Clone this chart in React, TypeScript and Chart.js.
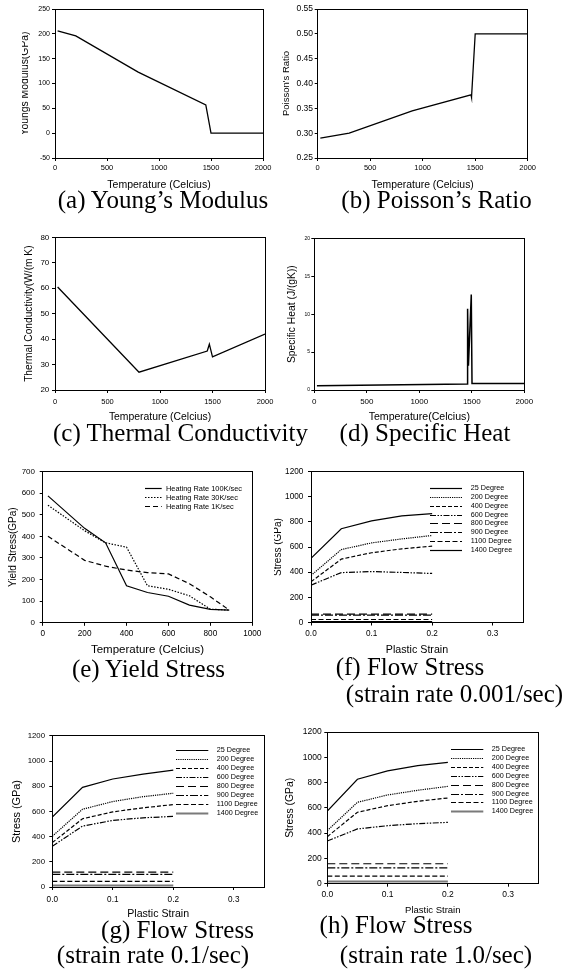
import React, { useEffect, useRef } from "react";
import { Chart, registerables } from "chart.js";

Chart.register(...registerables);

const SANS = "'Liberation Sans', Arial, sans-serif";
const SERIF = "'Liberation Serif', 'Times New Roman', serif";

// (a)-(d): temperature dependent material properties
const youngTemps = [25, 200, 800, 1450, 1500, 2000];
const youngModulus = [206, 196, 123, 57, 0, 0];
const poissonTemps = [25, 300, 900, 1460, 1465, 1500, 2000];
const poissonRatio = [0.29, 0.3, 0.345, 0.377, 0.372, 0.5, 0.5];
const conductivityTemps = [25, 800, 1450, 1470, 1500, 2000];
const conductivity = [60.5, 27, 35.3, 38, 33, 42];
const heatTemps = [25, 1455, 1460, 1468, 1495, 1502, 2000];
const specificHeat = [0.55, 0.8, 10.7, 3.2, 12.6, 0.85, 0.85];

// (e): yield stress for three heating rates
const yieldTemps = [25, 200, 300, 400, 500, 600, 700, 800, 890];
const yield100K = [587, 437, 370, 171, 140, 123, 82, 62, 59];
const yield30K = [544, 426, 370, 350, 171, 155, 125, 63, 59];
const yield1K = [400, 289, 262, 244, 232, 226, 181, 120, 59];
const heatingLabels = ["Heating Rate 100K/sec", "Heating Rate 30K/sec", "Heating Rate 1K/sec"];

// (f)-(h): flow stress vs plastic strain, one row per temperature
const strains = [0, 0.05, 0.1, 0.15, 0.2];
const degreeLabels = [
  "25 Degree", "200 Degree", "400 Degree", "600 Degree",
  "800 Degree", "900 Degree", "1100 Degree", "1400 Degree",
];
const flowRate0001 = [
  [510, 746, 808, 848, 866],
  [374, 580, 633, 665, 692],
  [324, 504, 555, 586, 607],
  [297, 397, 405, 398, 390],
  [67, 67, 67, 67, 67],
  [58, 58, 58, 58, 58],
  [24, 24, 24, 24, 24],
  [7, 7, 7, 7, 7],
];
const flowRate01 = [
  [555, 792, 858, 897, 929],
  [403, 618, 679, 718, 745],
  [353, 542, 597, 629, 655],
  [324, 484, 529, 550, 561],
  [118, 118, 118, 118, 118],
  [101, 101, 101, 101, 101],
  [44, 44, 44, 44, 44],
  [12, 12, 12, 12, 12],
];
const flowRate1 = [
  [575, 826, 892, 934, 960],
  [420, 644, 702, 739, 770],
  [372, 565, 617, 652, 678],
  [338, 433, 459, 475, 485],
  [158, 158, 158, 158, 158],
  [125, 125, 125, 125, 125],
  [60, 60, 60, 60, 60],
  [18, 18, 18, 18, 18],
];

// tick values
const tempTicks = [0, 500, 1000, 1500, 2000];
const youngTicks = [-50, 0, 50, 100, 150, 200, 250];
const poissonTicks = [0.25, 0.3, 0.35, 0.4, 0.45, 0.5, 0.55];
const conductivityTicks = [20, 30, 40, 50, 60, 70, 80];
const heatTicks = [0, 5, 10, 15, 20];
const yieldTempTicks = [0, 200, 400, 600, 800, 1000];
const yieldTicks = [0, 100, 200, 300, 400, 500, 600, 700];
const strainTicks = [0, 0.1, 0.2, 0.3];
const flowTicks = [0, 200, 400, 600, 800, 1000, 1200];

// line styles
const heatingDash = [[], [1.5, 1.5], [5, 3]];
const degreeDash = [
  [], [1.2, 1], [4, 2], [6, 1.5, 1.5, 1.5, 1.5, 1.5],
  [8, 4], [8, 2, 2, 2], [5, 2.5], [],
];

type Series = { label?: string; xs: number[]; ys: number[]; dash?: number[]; color?: string; width?: number };

const single = (xs: number[], ys: number[], width = 1.3): Series[] => [{ xs, ys, width }];

const flowSeries = (rows: number[][], grayLast: boolean): Series[] =>
  rows.map((ys, i) => ({
    label: degreeLabels[i],
    xs: strains,
    ys,
    dash: degreeDash[i],
    color: grayLast && i === rows.length - 1 ? "#7a7a7a" : "#000",
    width: grayLast && i === rows.length - 1 ? 2 : 1.2,
  }));

const flowAxes = {
  xMin: 0, xMax: 0.35, xTicks: strainTicks, xDec: 1,
  yMin: 0, yMax: 1200, yTicks: flowTicks, yDec: 0,
  xTitle: "Plastic Strain", yTitle: "Stress (GPa)",
};

const panels: any[] = [
  {
    plot: [55, 9, 263, 158], canvasLeft: 22,
    xMin: 0, xMax: 2000, xTicks: tempTicks, xDec: 0,
    yMin: -50, yMax: 250, yTicks: youngTicks, yDec: 0,
    yTitle: "Youngs Modulus(GPa)", yTitleX: 25, yTitleSize: 10.4,
    xTitle: "Temperature (Celcius)", xTitleY: 185, xTitleSize: 10.5,
    xTickY: 168, xTickSize: 7.5, yTickRight: 50, yTickSize: 7,
    series: single(youngTemps, youngModulus),
  },
  {
    plot: [317.7, 9, 527.7, 158], canvasLeft: 280,
    xMin: 0, xMax: 2000, xTicks: tempTicks, xDec: 0,
    yMin: 0.25, yMax: 0.55, yTicks: poissonTicks, yDec: 2,
    yTitle: "Poisson's Ratio", yTitleX: 286, yTitleSize: 9.5,
    xTitle: "Temperature (Celcius)", xTitleY: 185, xTitleSize: 10.4,
    xTickY: 168, xTickSize: 7.5, yTickRight: 313, yTickSize: 8.5,
    series: single(poissonTemps, poissonRatio),
  },
  {
    plot: [55, 237.3, 265, 390], canvasLeft: 18,
    xMin: 0, xMax: 2000, xTicks: tempTicks, xDec: 0,
    yMin: 20, yMax: 80, yTicks: conductivityTicks, yDec: 0,
    yTitle: "Thermal Conductivity(W/(m K)", yTitleX: 29, yTitleSize: 10.2,
    xTitle: "Temperature (Celcius)", xTitleY: 416.7, xTitleSize: 10.4,
    xTickY: 401.7, xTickSize: 7.5, yTickRight: 49.3, yTickSize: 8,
    series: single(conductivityTemps, conductivity),
  },
  {
    plot: [314.3, 238.3, 524.3, 390], canvasLeft: 282,
    xMin: 0, xMax: 2000, xTicks: tempTicks, xDec: 0,
    yMin: 0, yMax: 20, yTicks: heatTicks, yDec: 0,
    yTitle: "Specific Heat (J/(gK))", yTitleX: 292, yTitleSize: 10.3,
    xTitle: "Temperature(Celcius)", xTitleY: 416.7, xTitleSize: 10.6,
    xTickY: 401.7, xTickSize: 8, yTickRight: 310, yTickSize: 5,
    series: single(heatTemps, specificHeat, 1.5),
  },
  {
    plot: [42.7, 470.5, 252.3, 622.8], canvasLeft: 4,
    xMin: 0, xMax: 1000, xTicks: yieldTempTicks, xDec: 0,
    yMin: 0, yMax: 700, yTicks: yieldTicks, yDec: 0,
    yTitle: "Yield Stress(GPa)", yTitleX: 13.5, yTitleSize: 10,
    xTitle: "Temperature (Celcius)", xTitleY: 650, xTitleSize: 11.5,
    xTickY: 633.3, xTickSize: 8.2, yTickRight: 35, yTickSize: 8,
    series: [yield100K, yield30K, yield1K].map((ys, i) => ({
      label: heatingLabels[i], xs: yieldTemps, ys, dash: heatingDash[i], width: 1.2,
    })),
    legend: { lineStart: 145, lineEnd: 161.7, textX: 166, firstRow: 488.3, rowGap: 9, size: 7.4 },
  },
  {
    ...flowAxes,
    plot: [311, 470.9, 523, 622.5], canvasLeft: 274,
    yTitleX: 278.5, yTitleSize: 10,
    xTitleY: 650, xTitleSize: 10.7,
    xTickY: 633.3, xTickSize: 8.2, yTickRight: 303.3, yTickSize: 8.2,
    series: flowSeries(flowRate0001, false),
    legend: { lineStart: 430, lineEnd: 462, textX: 470.7, firstRow: 487.7, rowGap: 8.94, size: 7.2 },
  },
  {
    ...flowAxes,
    plot: [52.3, 735.5, 264, 887], canvasLeft: 6,
    yTitleX: 16.5, yTitleSize: 10.9,
    xTitleY: 914.3, xTitleSize: 10.6,
    xTickY: 900, xTickSize: 8.2, yTickRight: 45, yTickSize: 7.8,
    series: flowSeries(flowRate01, true),
    legend: { lineStart: 176, lineEnd: 208.3, textX: 216.7, firstRow: 750.3, rowGap: 8.96, size: 7.2 },
  },
  {
    ...flowAxes,
    plot: [327.3, 732, 538.3, 883.7], canvasLeft: 280,
    yTitleX: 290.5, yTitleSize: 10.4,
    xTitleY: 910.7, xTitleSize: 9.5,
    xTickY: 895, xTickSize: 8.5, yTickRight: 321.7, yTickSize: 8.5,
    series: flowSeries(flowRate1, true),
    legend: { lineStart: 451, lineEnd: 483.3, textX: 491.7, firstRow: 749, rowGap: 8.9, size: 7.2 },
  },
];

const captions = [
  { text: "(a) Young\u2019s Modulus", cx: 163, baseline: 208 },
  { text: "(b) Poisson\u2019s Ratio", cx: 436.5, baseline: 208 },
  { text: "(c) Thermal Conductivity", cx: 180.5, baseline: 441 },
  { text: "(d) Specific Heat", cx: 425, baseline: 441 },
  { text: "(e) Yield Stress", cx: 148.5, baseline: 677 },
  { text: "(f) Flow Stress", cx: 410, baseline: 675 },
  { text: "(strain rate 0.001/sec)", cx: 454.5, baseline: 702 },
  { text: "(g) Flow Stress", cx: 177.5, baseline: 938 },
  { text: "(strain rate 0.1/sec)", cx: 153, baseline: 963 },
  { text: "(h) Flow Stress", cx: 396, baseline: 933 },
  { text: "(strain rate 1.0/sec)", cx: 436, baseline: 963 },
];

const TICK_LEN = 3;

function geometry(s: any) {
  const [pl, pt, pr, pb] = s.plot;
  const left = Math.floor(s.canvasLeft);
  const top = Math.floor(pt - 8);
  const right = Math.ceil(pr + 14);
  const xTitleLh = s.xTitleSize * 1.2;
  const bottom = Math.ceil(s.xTitleY + xTitleLh / 2 + 2);
  return {
    left, top, width: right - left, height: bottom - top,
    padTop: pt - top,
    padRight: right - pr,
    yAxisW: pl - left,
    xAxisH: bottom - pb,
    yTickPad: pl - TICK_LEN - s.yTickRight,
    xTickPad: s.xTickY - (s.xTickSize * 1.2) / 2 - pb - TICK_LEN,
    yTitlePad: s.yTitleX - left - (s.yTitleSize * 1.2) / 2,
    xTitlePad: bottom - s.xTitleY - xTitleLh / 2,
  };
}

const alignPx = (p: number) => Math.round(p - 0.5) + 0.5;

// Closes the plot box on the top and right sides.
const framePlugin = {
  id: "frame",
  afterDraw(chart: any) {
    const { left, top, right, bottom } = chart.chartArea;
    const ctx = chart.ctx;
    ctx.save();
    ctx.strokeStyle = "#000";
    ctx.lineWidth = 1;
    const l = alignPx(left), t = alignPx(top), r = alignPx(right), b = alignPx(bottom);
    ctx.strokeRect(l, t, r - l, b - t);
    ctx.restore();
  },
};

// Line-sample legend placed inside the plot area.
const lineLegendPlugin = {
  id: "lineLegend",
  afterDatasetsDraw(chart: any, _args: any, opts: any) {
    if (!opts || opts.firstRow == null) return;
    const ctx = chart.ctx;
    const ox = opts.originX, oy = opts.originY;
    chart.data.datasets.forEach((ds: any, i: number) => {
      const y = Math.round(opts.firstRow + i * opts.rowGap - oy) + 0.5;
      ctx.save();
      ctx.strokeStyle = ds.borderColor;
      ctx.lineWidth = ds.borderWidth;
      ctx.setLineDash(ds.borderDash || []);
      ctx.beginPath();
      ctx.moveTo(opts.lineStart - ox, y);
      ctx.lineTo(opts.lineEnd - ox, y);
      ctx.stroke();
      ctx.setLineDash([]);
      ctx.fillStyle = "#000";
      ctx.font = `${opts.size}px ${SANS}`;
      ctx.textBaseline = "middle";
      ctx.textAlign = "left";
      ctx.fillText(ds.label, opts.textX - ox, y);
      ctx.restore();
    });
  },
};

function buildConfig(s: any, g: any): any {
  const axisCommon = {
    type: "linear",
    grid: { display: true, drawOnChartArea: false, drawTicks: true, tickLength: TICK_LEN, color: "#000", lineWidth: 1 },
    border: { display: true, color: "#000", width: 1 },
  };
  return {
    type: "scatter",
    data: {
      datasets: s.series.map((d: Series) => ({
        label: d.label ?? "",
        data: d.xs.map((x, i) => ({ x, y: d.ys[i] })),
        showLine: true,
        borderColor: d.color ?? "#000",
        backgroundColor: d.color ?? "#000",
        borderWidth: d.width ?? 1.2,
        borderDash: d.dash ?? [],
        pointRadius: 0,
        pointHoverRadius: 0,
        fill: false,
        tension: 0,
      })),
    },
    options: {
      responsive: false,
      animation: false,
      events: [],
      layout: { padding: { left: 0, top: g.padTop, right: g.padRight, bottom: 0 } },
      plugins: {
        legend: { display: false },
        tooltip: { enabled: false },
        lineLegend: s.legend ? { ...s.legend, originX: g.left, originY: g.top } : false,
      },
      scales: {
        x: {
          ...axisCommon,
          min: s.xMin,
          max: s.xMax,
          afterBuildTicks: (sc: any) => { sc.ticks = s.xTicks.map((v: number) => ({ value: v })); },
          afterFit: (sc: any) => { sc.height = g.xAxisH; },
          ticks: {
            autoSkip: false, maxRotation: 0, minRotation: 0, padding: g.xTickPad, color: "#000",
            font: { family: SANS, size: s.xTickSize },
            callback: (v: any) => Number(v).toFixed(s.xDec),
          },
          title: {
            display: true, text: s.xTitle, color: "#000",
            font: { family: SANS, size: s.xTitleSize },
            padding: { top: 0, bottom: g.xTitlePad },
          },
        },
        y: {
          ...axisCommon,
          min: s.yMin,
          max: s.yMax,
          afterBuildTicks: (sc: any) => { sc.ticks = s.yTicks.map((v: number) => ({ value: v })); },
          afterFit: (sc: any) => { sc.width = g.yAxisW; },
          ticks: {
            autoSkip: false, padding: g.yTickPad, color: "#000",
            font: { family: SANS, size: s.yTickSize },
            callback: (v: any) => Number(v).toFixed(s.yDec),
          },
          title: {
            display: true, text: s.yTitle, color: "#000",
            font: { family: SANS, size: s.yTitleSize },
            padding: { top: g.yTitlePad, bottom: 0 },
          },
        },
      },
    },
    plugins: [framePlugin, lineLegendPlugin],
  };
}

function PanelChart({ spec }: { spec: any }) {
  const ref = useRef<HTMLCanvasElement | null>(null);
  const g = geometry(spec);
  useEffect(() => {
    if (!ref.current) return;
    const chart = new Chart(ref.current, buildConfig(spec, g));
    return () => chart.destroy();
  }, []);
  return (
    <canvas
      ref={ref}
      width={g.width}
      height={g.height}
      style={{ position: "absolute", left: g.left, top: g.top, width: g.width, height: g.height }}
    />
  );
}

export default function App() {
  return (
    <div
      style={{
        position: "absolute", left: 0, top: 0, width: 563, height: 974,
        background: "#fff", overflow: "hidden",
      }}
    >
      {panels.map((p, i) => (
        <PanelChart key={i} spec={p} />
      ))}
      {captions.map((c, i) => (
        <div
          key={i}
          style={{
            position: "absolute",
            left: c.cx - 200,
            width: 400,
            top: c.baseline - 20.9,
            textAlign: "center",
            fontFamily: SERIF,
            fontSize: 25,
            lineHeight: "25px",
            whiteSpace: "nowrap",
            color: "#000",
          }}
        >
          {c.text}
        </div>
      ))}
    </div>
  );
}
